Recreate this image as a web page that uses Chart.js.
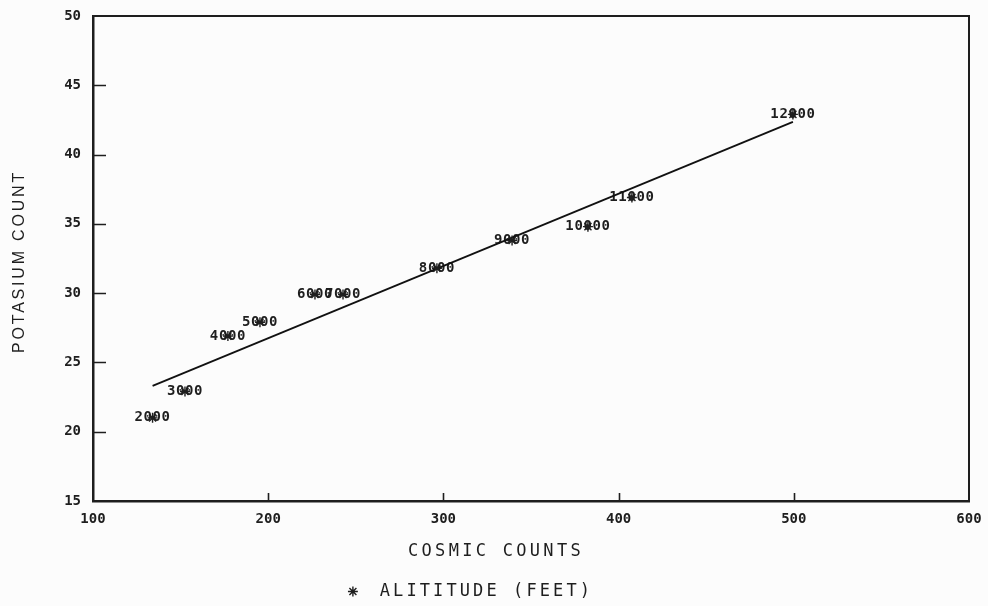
<!DOCTYPE html>
<html>
<head>
<meta charset="utf-8">
<title>Potassium count vs cosmic counts</title>
<script src="https://cdn.jsdelivr.net/npm/chart.js@4/dist/chart.umd.min.js"></script>
<style>
  html, body { margin: 0; padding: 0; background: #fcfcfc; }
  #wrap { width: 988px; height: 606px; }
</style>
</head>
<body>
<div id="wrap"><canvas id="chart" width="988" height="606"></canvas></div>
<script>
// Survey readings, one per altitude (feet)
const altitudeLabels = ['2000', '3000', '4000', '5000', '6000', '7000', '8000', '9000', '10000', '11000', '12000'];
const cosmicCounts = [134, 152.5, 177, 195.3, 226.7, 242.7, 296.3, 339.2, 382.5, 407.6, 499.5];
const potassiumCounts = [21, 22.9, 26.9, 27.9, 29.9, 29.9, 31.8, 33.8, 34.8, 36.9, 42.9];

// Axis tick values
const xTickValues = [100, 200, 300, 400, 500, 600];
const yTickValues = [15, 20, 25, 30, 35, 40, 45, 50];

const INK = '#1e1e1e';
const MONO = '"DejaVu Sans Mono", "Liberation Mono", monospace';
const SANS = '"Liberation Sans", Arial, sans-serif';

// Least-squares fit of potassium on cosmic counts, drawn over the data range
function linearFit(xs, ys) {
  const n = xs.length;
  const mx = xs.reduce((a, b) => a + b, 0) / n;
  const my = ys.reduce((a, b) => a + b, 0) / n;
  let sxy = 0, sxx = 0;
  for (let i = 0; i < n; i++) {
    sxy += (xs[i] - mx) * (ys[i] - my);
    sxx += (xs[i] - mx) * (xs[i] - mx);
  }
  const slope = sxy / sxx;
  return { slope, intercept: my - slope * mx };
}
const fit = linearFit(cosmicCounts, potassiumCounts);
const xLo = Math.min(...cosmicCounts), xHi = Math.max(...cosmicCounts);
const fitLine = [xLo, xHi].map(x => ({ x, y: fit.intercept + fit.slope * x }));

const points = cosmicCounts.map((x, i) => ({ x, y: potassiumCounts[i] }));

// Runs a drawing function with canvas letter spacing applied
function withSpacing(ctx, spacing, fn) {
  const prev = ctx.letterSpacing;
  ctx.letterSpacing = spacing;
  try { return fn(); } finally { ctx.letterSpacing = prev; }
}

// Wide, evenly spaced lettering for axis titles and legend;
// the legend and the x title sit centred on the page rather than the plot
const LEGEND_SHIFT = { dx: -14, dy: 4 };
const TITLE_SHIFT = { x: [-35, 3], y: [0, 3] };
const spacedText = {
  id: 'spacedText',
  afterInit(chart) {
    const lg = chart.legend;
    if (lg && !lg._spaced) {
      const fitOrig = lg.fit.bind(lg);
      const drawOrig = lg.draw.bind(lg);
      lg.fit = () => withSpacing(chart.ctx, '3.1px', fitOrig);
      lg.draw = () => {
        const { left, right, top, bottom } = lg;
        lg.left += LEGEND_SHIFT.dx; lg.right += LEGEND_SHIFT.dx;
        lg.top += LEGEND_SHIFT.dy; lg.bottom += LEGEND_SHIFT.dy;
        withSpacing(chart.ctx, '3.1px', drawOrig);
        Object.assign(lg, { left, right, top, bottom });
      };
      lg._spaced = true;
    }
  },
  afterLayout(chart) {
    [['x', '3.3px'], ['y', '2.8px']].forEach(([id, sp]) => {
      const s = chart.scales[id];
      if (s && !s._spaced) {
        const [dx, dy] = TITLE_SHIFT[id];
        const orig = s.drawTitle.bind(s);
        s.drawTitle = () => {
          const ctx = chart.ctx;
          ctx.save();
          ctx.translate(dx, dy);
          withSpacing(ctx, sp, orig);
          ctx.restore();
        };
        s._spaced = true;
      }
    });
  }
};

// Closes the plot frame and draws inward tick marks
const frameAndTicks = {
  id: 'frameAndTicks',
  beforeDatasetsDraw(chart) {
    const { ctx, chartArea: a, scales: { x, y } } = chart;
    ctx.save();
    ctx.strokeStyle = INK;
    ctx.lineWidth = 2;
    ctx.beginPath();
    ctx.moveTo(a.left, a.top);
    ctx.lineTo(a.right, a.top);
    ctx.lineTo(a.right, a.bottom);
    ctx.stroke();
    ctx.lineWidth = 1.6;
    ctx.beginPath();
    yTickValues.slice(1, -1).forEach(v => {
      const py = Math.round(y.getPixelForValue(v)) + 0.5;
      ctx.moveTo(a.left, py);
      ctx.lineTo(a.left + 13, py);
    });
    xTickValues.slice(1, -1).forEach(v => {
      const px = Math.round(x.getPixelForValue(v)) + 0.5;
      ctx.moveTo(px, a.bottom);
      ctx.lineTo(px, a.bottom - 8);
    });
    ctx.stroke();
    ctx.restore();
  }
};

// Altitude label printed centred on each marker
const altitudeText = {
  id: 'altitudeText',
  beforeDatasetsDraw(chart) {
    const { ctx } = chart;
    const meta = chart.getDatasetMeta(0);
    ctx.save();
    ctx.font = 'bold 14px ' + MONO;
    ctx.fillStyle = INK;
    ctx.textAlign = 'center';
    ctx.textBaseline = 'middle';
    ctx.letterSpacing = '0.6px';
    meta.data.forEach((el, i) => {
      ctx.fillText(altitudeLabels[i], el.x, el.y);
    });
    ctx.restore();
  }
};

// Tick labels may overhang the frame; no extra room reserved for them
const noOverhang = s => {
  s.paddingTop = 0; s.paddingBottom = 0; s.paddingLeft = 0; s.paddingRight = 0;
};

new Chart(document.getElementById('chart'), {
  type: 'scatter',
  data: {
    datasets: [
      {
        label: 'ALITITUDE (FEET)',
        data: points,
        pointStyle: 'star',
        pointRadius: 5,
        pointHoverRadius: 5,
        borderColor: INK,
        backgroundColor: INK,
        borderWidth: 1.4
      },
      {
        label: 'fit',
        type: 'line',
        data: fitLine,
        borderColor: '#111',
        borderWidth: 1.8,
        pointRadius: 0,
        fill: false,
        tension: 0
      }
    ]
  },
  options: {
    responsive: false,
    animation: false,
    devicePixelRatio: 1,
    layout: { padding: { top: 16, right: 19, left: 0, bottom: 0 } },
    plugins: {
      tooltip: { enabled: false },
      legend: {
        position: 'bottom',
        labels: {
          filter: item => item.datasetIndex === 0,
          generateLabels: chart => Chart.defaults.plugins.legend.labels.generateLabels(chart)
            .map(item => Object.assign(item, { text: ' ' + item.text })),
          usePointStyle: true,
          boxWidth: 10,
          boxHeight: 7,
          padding: 3,
          color: INK,
          font: { family: MONO, size: 17 }
        }
      }
    },
    scales: {
      x: {
        type: 'linear',
        min: 100,
        max: 600,
        afterBuildTicks: s => { s.ticks = xTickValues.map(v => ({ value: v })); },
        afterFit: s => { s.height = 75; noOverhang(s); },
        grid: { display: false, drawTicks: false },
        border: { display: true, color: INK, width: 2.5 },
        ticks: {
          padding: 10,
          color: INK,
          font: { family: MONO, size: 14, weight: 'bold' },
          callback: v => String(v)
        },
        title: {
          display: true,
          text: 'COSMIC COUNTS',
          color: INK,
          font: { family: MONO, size: 17 },
          padding: { top: 0, bottom: 17 }
        }
      },
      y: {
        type: 'linear',
        min: 15,
        max: 50,
        afterBuildTicks: s => { s.ticks = yTickValues.map(v => ({ value: v })); },
        afterFit: s => { s.width = 93; noOverhang(s); },
        grid: { display: false, drawTicks: false },
        border: { display: true, color: INK, width: 2.5 },
        ticks: {
          padding: 12,
          color: INK,
          font: { family: MONO, size: 14, weight: 'bold' },
          callback: v => String(v)
        },
        title: {
          display: true,
          text: 'POTASIUM COUNT',
          color: INK,
          font: { family: SANS, size: 16 },
          padding: { top: 10, bottom: 0 }
        }
      }
    }
  },
  plugins: [spacedText, frameAndTicks, altitudeText]
});
</script>
</body>
</html>
